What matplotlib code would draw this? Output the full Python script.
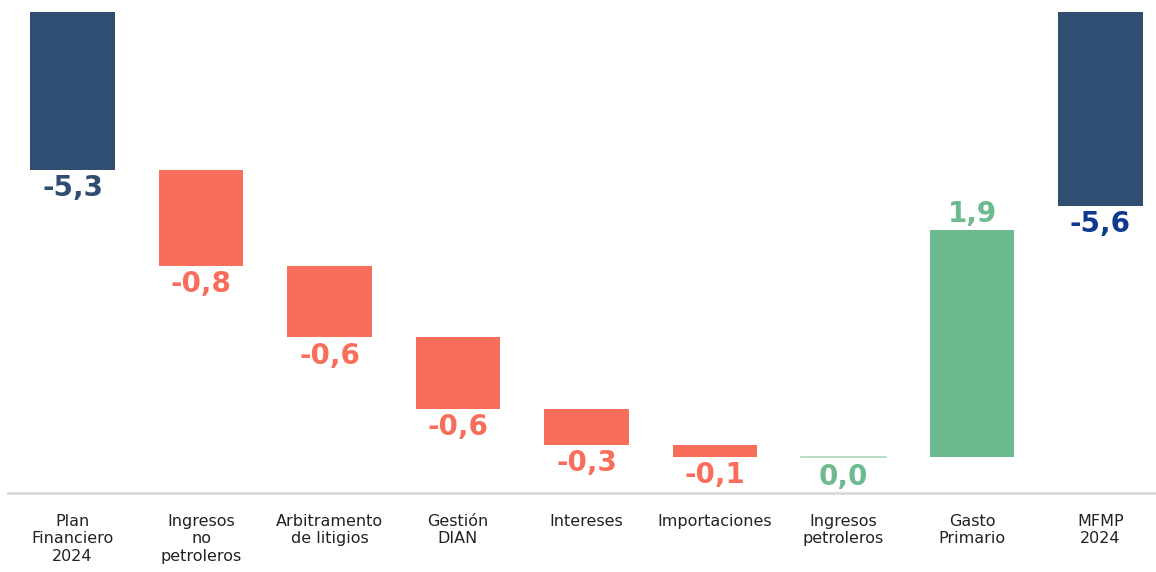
import matplotlib.pyplot as plt

plt.rcParams['font.family'] = ['DejaVu Sans']

categories = ["Plan\nFinanciero\n2024", "Ingresos\nno\npetroleros", "Arbitramento\nde litigios",
              "Gestión\nDIAN", "Intereses", "Importaciones", "Ingresos\npetroleros",
              "Gasto\nPrimario", "MFMP\n2024"]
values = [-5.3, -0.8, -0.6, -0.6, -0.3, -0.1, 0.0, 1.9, -5.6]
labels = ["-5,3", "-0,8", "-0,6", "-0,6", "-0,3", "-0,1", "0,0", "1,9", "-5,6"]
kinds = ["total", "delta", "delta", "delta", "delta", "delta", "delta", "delta", "total"]

c_total = "#2F4E71"
c_neg = "#F96E5A"
c_pos = "#6DBA8E"

fig = plt.figure(figsize=(11.56, 5.72), dpi=100)
ax = fig.add_axes([8 / 1156, 1 - 493 / 572, 1 - 8 / 1156, (493 - 12) / 572])

running = 0.0
for i, (v, kind, lab) in enumerate(zip(values, kinds, labels)):
    if kind == "total":
        bottom, height = 0, v
        running = v
        color = c_total
        lab_y, off = v, -13
        tcol = "#2E4D6F" if i == 0 else "#0D3A8C"
    else:
        bottom = running
        height = v
        running += v
        if v < 0:
            color = c_neg
            lab_y, off = running, -13
            tcol = c_neg
        else:
            color = c_pos
            lab_y, off = running, 11
            tcol = c_pos
        if v == 0:
            lab_y, off = running, -14
    if v == 0 and kind == "delta":
        ax.plot([i - 0.33, i + 0.33], [bottom, bottom], color="#A9D9BC", lw=1.2)
    else:
        ax.bar(i, height, bottom=bottom, width=0.66, color=color)
    ax.annotate(lab, (i, lab_y), xytext=(0, off), textcoords="offset points",
                ha="center", va="center", fontsize=20, fontweight="bold", color=tcol)

ax.set_xlim(-0.502, 8.432)
ax.set_ylim(-8.0, -3.98)
ax.set_yticks([])
ax.set_xticks(range(len(categories)))
ax.set_xticklabels(categories, fontsize=11.5, linespacing=1.2, color="#222222")
ax.tick_params(axis="x", length=0, pad=15)
for s in ["top", "right", "left"]:
    ax.spines[s].set_visible(False)
ax.spines["bottom"].set_color("#D9D9D9")
ax.spines["bottom"].set_linewidth(2)

fig.savefig("out.png", dpi=100)
